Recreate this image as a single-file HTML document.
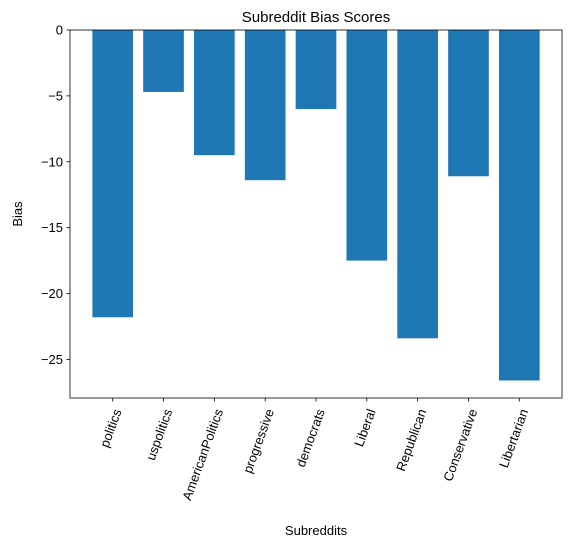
<!DOCTYPE html>
<html><head><meta charset="utf-8"><style>
body{margin:0;background:#fff;width:578px;height:552px;overflow:hidden}
text{font-family:"Liberation Sans","DejaVu Sans",sans-serif;fill:#000}
</style></head><body>
<svg id="chart" width="578" height="552" viewBox="0 0 578 552" xmlns="http://www.w3.org/2000/svg"></svg>
<script>
const categories = ["politics","uspolitics","AmericanPolitics","progressive","democrats","Liberal","Republican","Conservative","Libertarian"];
const values = [-21.8, -4.7, -9.5, -11.4, -6.0, -17.5, -23.4, -11.1, -26.6];
const yTicks = [0, -5, -10, -15, -20, -25];

const svg = document.getElementById('chart');
const NS = "http://www.w3.org/2000/svg";
const L = 70, R = 562, T = 30, B = 398;
const ymax = 0;
const yLo = Math.min(...values) - 0.05 * (0 - Math.min(...values));
const xLo = -0.84, xHi = categories.length - 1 + 0.84;
function xs(v){ return L + (v - xLo) / (xHi - xLo) * (R - L); }
function ys(v){ return T + (ymax - v) / (ymax - yLo) * (B - T); }
function mk(tag, attrs, parent){ const e = document.createElementNS(NS, tag); for (const k in attrs) e.setAttribute(k, attrs[k]); (parent||svg).appendChild(e); return e; }

const bw = 0.8 * (xs(1) - xs(0));
values.forEach((v, i) => {
  const r = mk('rect', {x: xs(i) - bw/2, y: ys(0), width: bw, height: ys(v) - ys(0), fill: '#1f77b4'});
  
  
});

const frame = mk('rect', {x: L, y: T, width: R - L, height: B - T, fill: 'none', stroke: '#000', 'stroke-width': 0.8});



yTicks.forEach(t => {
  const y = ys(t);
  mk('line', {x1: L - 3.5, x2: L, y1: y, y2: y, stroke: '#000', 'stroke-width': 0.8});
  const tx = mk('text', {x: L - 7, y: y + 4.5, 'text-anchor': 'end', 'font-size': 13});
  tx.textContent = t === 0 ? '0' : '\u2212' + Math.abs(t);
  
  
});

categories.forEach((c, i) => {
  const x = xs(i);
  mk('line', {x1: x, x2: x, y1: B, y2: B + 3.5, stroke: '#000', 'stroke-width': 0.8});
  const tx = mk('text', {x: 0, y: 0, 'text-anchor': 'end', 'font-size': 13, transform: `translate(${x + 9},${B + 13}) rotate(-70)`});
  tx.textContent = c;
  
  
});

const title = mk('text', {x: (L + R)/2, y: 22, 'text-anchor': 'middle', 'font-size': 15});
title.textContent = 'Subreddit Bias Scores';



const xt = mk('text', {x: (L + R)/2, y: 535, 'text-anchor': 'middle', 'font-size': 13});
xt.textContent = 'Subreddits';



const yt = mk('text', {x: 0, y: 0, 'text-anchor': 'middle', 'font-size': 13, transform: `translate(22,${(T + B)/2}) rotate(-90)`});
yt.textContent = 'Bias';


</script>
</body></html>
